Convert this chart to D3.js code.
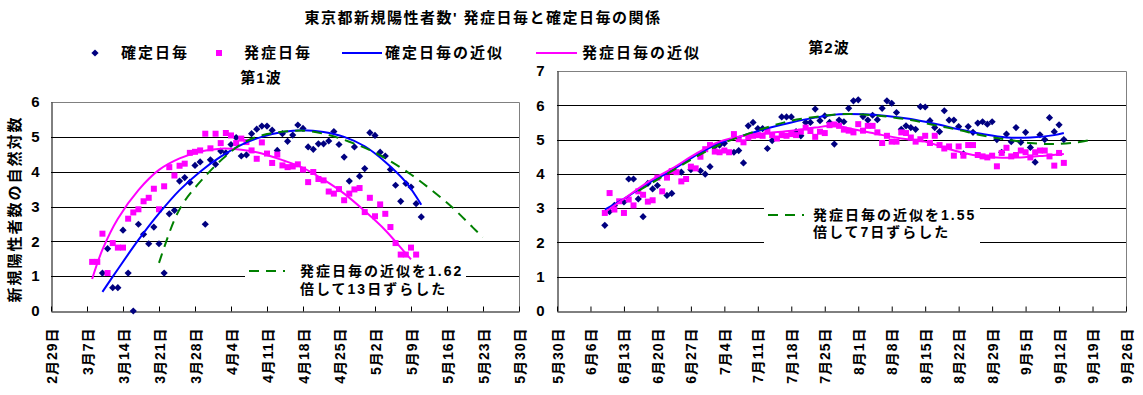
<!DOCTYPE html>
<html>
<head>
<meta charset="utf-8">
<script src="https://cdn.jsdelivr.net/npm/d3@7"></script>
<style>
    body { margin: 0; background: #fff; }
    svg { display: block; font-family: "Liberation Sans", "Noto Sans CJK JP", sans-serif; font-weight: bold; }
</style>
</head>
<body>
<svg id="chart" width="1143" height="395"></svg>
<script>
/*global d3 */

//x axis tick dates (2020)
var wave1Ticks = ["2/29", "3/7", "3/14", "3/21", "3/28", "4/4", "4/11", "4/18",
                  "4/25", "5/2", "5/9", "5/16", "5/23", "5/30"];
var wave2Ticks = ["5/30", "6/6", "6/13", "6/20", "6/27", "7/4", "7/11", "7/18",
                  "7/25", "8/1", "8/8", "8/15", "8/22", "8/29", "9/5", "9/12",
                  "9/19", "9/26"];

//daily log values, one per day from the start date (null = not readable)
var wave1OnsetStart = "3/8";
var wave1Onset = [1.41, 1.41, 2.22, 1.09, 1.95, 1.82, 1.82, 2.65, 2.83, 2.92,
                  3.15, 3.25, 3.51, 2.92, 3.58, 4.13, 3.89, 4.17, 4.23, 4.54,
                  4.57, 4.61, 5.09, 4.67, 5.09, 4.82, 5.11, 5.04, 4.82, 4.95,
                  4.85, 4.61, 4.37, 4.84, 4.52, 4.25, 4.49, 4.18, 4.13, 4.15,
                  4.21, 4.06, 3.70, 3.99, 3.79, 3.75, 3.43, 3.37, 3.50, 3.18,
                  3.37, 3.49, 3.53, 2.84, 3.25, 2.72, 3.06, 2.79, 2.41, 1.95,
                  1.62, 1.62, 1.82, 1.62];
var wave1ConfirmStart = "3/10";
var wave1Confirm = [1.09, 1.79, 0.67, 0.67, 2.32, 1.09, 0, 2.49, 2.20, 1.93,
                    2.41, 1.93, 1.09, 2.79, 2.89, 3.73, 3.83, 3.69, 4.18, 4.28,
                    2.49, 4.34, 4.21, 4.59, 4.54, 4.78, 4.98, 4.45, 4.48, 5.09,
                    5.22, 5.31, 5.31, 5.19, 4.61, 5.09, 4.87, 5.05, 5.34, 5.24,
                    4.71, 4.64, 4.80, 4.80, 4.88, 5.15, 4.78, 4.42, 3.73, 4.71,
                    3.87, 4.09, 5.12, 5.04, 4.56, 4.45, 4.06, 3.61, 3.15, 3.66,
                    3.56, 3.08, 2.70];
var wave2OnsetStart = "6/9";
var wave2Onset = [2.86, 3.44, 2.96, 3.20, 2.86, 3.25, 3.08, 3.49, 3.39, 3.19,
                  3.23, 3.89, 3.49, 3.89, 4.08, 4.05, 3.78, 3.85, 4.21, 4.16,
                  4.50, 4.72, 4.84, 4.65, 4.63, 4.68, 4.63, 5.16, 5.01, 4.92,
                  5.06, 5.11, 5.13, 5.11, 5.23, 5.13, 5.03, 5.13, 5.11, 5.16,
                  5.13, 5.23, 5.35, 5.25, 5.08, 5.23, 5.19, 5.42, 5.44, 5.40,
                  5.29, 5.26, 5.21, 5.45, 5.26, 5.40, 5.40, 5.21, 4.90, 5.11,
                  4.94, 4.94, 5.21, 5.19, 5.06, 4.94, 5.01, 5.11, 4.90, 5.11,
                  4.84, 4.74, 4.80, 4.53, 4.80, 4.53, 4.84, 4.84, 4.55, 4.51,
                  4.48, 4.53, 4.22, 4.61, 4.76, 4.51, 4.55, 4.68, 4.63, 4.48,
                  4.63, 4.68, 4.68, 4.51, 4.24, 4.61, 4.32];
var wave2ConfirmStart = "6/9";
var wave2Confirm = [2.50, 2.90, 3.08, null, 3.18, 3.85, 3.85, 3.27, 2.75, 3.72,
                    3.56, 3.66, null, 3.37, 3.43, null, 4.05, null, 4.12, null,
                    4.09, 3.99, 4.21, 4.80, 4.84, 4.89, null, 4.63, 4.68, 4.32,
                    5.40, 5.50, 5.32, 5.32, 4.74, 4.97, null, 5.66, 5.66, 5.66,
                    5.23, 5.11, 5.50, 5.50, 5.89, 5.55, 5.69, 5.50, 4.87, 5.57,
                    5.52, 5.91, 6.13, 6.16, 5.67, 5.57, 5.71, 5.58, 5.91, 6.13,
                    6.06, 5.79, 5.30, 5.40, 5.35, 5.30, 5.96, 5.95, 5.55, 5.35,
                    5.23, 5.84, 5.57, 5.57, 5.38, 4.58, 5.38, 5.21, 5.48, 5.52,
                    5.45, 5.52, 5.00, 4.63, 5.16, 4.94, 5.35, 4.92, 5.21, 4.77,
                    4.34, 5.14, 5.00, 5.64, 5.23, 5.43, 5.00];

//fitted curves as [date, value]
var wave1OnsetFit = [["3/8", 0.92], ["3/10", 1.76], ["3/13", 2.65], ["3/17", 3.47],
                     ["3/21", 4.05], ["3/25", 4.38], ["3/29", 4.58], ["4/2", 4.66],
                     ["4/6", 4.63], ["4/10", 4.52], ["4/14", 4.33], ["4/18", 4.11],
                     ["4/22", 3.77], ["4/26", 3.37], ["4/30", 2.87], ["5/4", 2.32],
                     ["5/8", 1.65], ["5/9", 1.48]];
var wave1ConfirmFit = [["3/10", 0.55], ["3/13", 1.20], ["3/17", 2.04], ["3/21", 2.80],
                       ["3/25", 3.47], ["3/29", 4.00], ["4/2", 4.43], ["4/6", 4.77],
                       ["4/10", 5.00], ["4/14", 5.14], ["4/18", 5.19], ["4/22", 5.14],
                       ["4/26", 5.00], ["4/30", 4.73], ["5/4", 4.28], ["5/8", 3.70],
                       ["5/11", 3.05]];
var wave1ShiftFit = [["3/21", 1.38], ["3/24", 2.62], ["3/26", 3.16], ["3/30", 3.87],
                     ["4/3", 4.45], ["4/7", 4.88], ["4/11", 5.08], ["4/15", 5.16],
                     ["4/19", 5.17], ["4/23", 5.05], ["4/27", 4.86], ["5/1", 4.62],
                     ["5/5", 4.30], ["5/9", 3.92], ["5/13", 3.47], ["5/17", 2.98],
                     ["5/21", 2.40], ["5/23", 2.12]];
var wave2OnsetFit = [["6/9", 2.88], ["6/13", 3.27], ["6/18", 3.76], ["6/23", 4.15],
                     ["6/28", 4.58], ["7/3", 4.94], ["7/8", 5.11], ["7/13", 5.19],
                     ["7/18", 5.26], ["7/23", 5.35], ["7/27", 5.40], ["7/31", 5.30],
                     ["8/5", 5.16], ["8/10", 5.03], ["8/15", 4.94], ["8/20", 4.72],
                     ["8/25", 4.55], ["8/30", 4.48], ["9/4", 4.48], ["9/9", 4.53],
                     ["9/13", 4.58]];
var wave2ConfirmFit = [["6/9", 2.96], ["6/13", 3.27], ["6/18", 3.72], ["6/23", 4.10],
                       ["6/28", 4.54], ["7/3", 4.90], ["7/8", 5.12], ["7/13", 5.33],
                       ["7/18", 5.50], ["7/23", 5.64], ["7/28", 5.74], ["8/2", 5.74],
                       ["8/7", 5.69], ["8/12", 5.60], ["8/17", 5.46], ["8/22", 5.30],
                       ["8/27", 5.16], ["9/1", 5.06], ["9/6", 5.06], ["9/11", 5.13],
                       ["9/13", 5.19]];
var wave2ShiftFit = [["6/16", 3.50], ["6/23", 4.08], ["6/28", 4.49], ["7/3", 4.85],
                     ["7/8", 5.12], ["7/13", 5.36], ["7/18", 5.55], ["7/23", 5.66],
                     ["7/28", 5.74], ["8/2", 5.73], ["8/7", 5.67], ["8/12", 5.57],
                     ["8/17", 5.42], ["8/22", 5.28], ["8/27", 5.12], ["9/1", 5.00],
                     ["9/6", 4.90], ["9/11", 4.87], ["9/16", 4.92], ["9/18", 4.97]];

(function () {
    "use strict";

    var svg = d3.select("#chart"),
        parse = d3.utcParse("%Y/%m/%d"),
        fmt = d3.utcFormat("%-m月%-d日"),
        col = {confirm: "#000080", onset: "#ff00ff", confirmFit: "#0000ff",
               onsetFit: "#ff00ff", shift: "#008000", grid: "#000", frame: "#808080"};

    function day (s) { return parse("2020/" + s); }

    function daily (start, vals) {
        var t0 = day(start);
        return vals.map(function (v, i) {
            return {date: d3.utcDay.offset(t0, i), value: v}; })
            .filter(function (d) { return d.value !== null; });
    }

    function pairs (list) {
        return list.map(function (p) { return {date: day(p[0]), value: p[1]}; });
    }

    function crisp (v) { return Math.round(v) + 0.5; }

    function drawPanel (p) {
        var x, y, g, line;
        x = d3.scaleUtc()
            .domain([day(p.ticks[0]), day(p.ticks[p.ticks.length - 1])])
            .range([p.left, p.right]);
        y = d3.scaleLinear().domain([0, p.ymax]).range([p.bottom, p.top]);
        line = d3.line().curve(d3.curveCatmullRom.alpha(0.5))
            .x(function (d) { return x(d.date); })
            .y(function (d) { return y(d.value); });
        g = svg.append("g");

        //horizontal gridlines
        g.append("g").selectAll("line")
            .data(d3.range(1, p.ymax))
            .join("line")
            .attr("x1", p.left).attr("x2", p.right)
            .attr("y1", function (d) { return crisp(y(d)); })
            .attr("y2", function (d) { return crisp(y(d)); })
            .attr("stroke", col.grid);
        //grey frame on top and right
        g.append("path")
            .attr("d", "M" + p.left + "," + crisp(y(p.ymax)) + "H" + crisp(p.right) +
                  "V" + crisp(p.bottom))
            .attr("fill", "none")
            .attr("stroke", col.frame);

        //note box hides the gridlines under the annotation
        g.append("rect")
            .attr("x", p.note.x0).attr("y", p.note.y0)
            .attr("width", p.note.x1 - p.note.x0)
            .attr("height", p.note.y1 - p.note.y0)
            .attr("fill", "#fff");
        g.append("line")
            .attr("x1", p.note.x0 + 4).attr("x2", p.note.x0 + 40)
            .attr("y1", p.note.ly).attr("y2", p.note.ly)
            .attr("stroke", col.shift).attr("stroke-width", 2)
            .attr("stroke-dasharray", "10,7");
        g.append("text")
            .attr("x", p.note.tx).attr("y", p.note.ly + 5)
            .attr("font-size", 14).attr("letter-spacing", 2)
            .text(p.note.lines[0]);
        g.append("text")
            .attr("x", p.note.tx).attr("y", p.note.ly + 5 + p.note.gap)
            .attr("font-size", 14).attr("letter-spacing", 2)
            .text(p.note.lines[1]);

        //x axis with dates turned upright
        g.append("g")
            .attr("transform", "translate(0," + crisp(p.bottom) + ")")
            .call(d3.axisBottom(x)
                  .tickValues(p.ticks.map(day))
                  .tickFormat(fmt)
                  .tickSizeInner(-5)
                  .tickSizeOuter(0))
            .call(function (a) {
                a.attr("font-family", null).attr("font-size", null);
                a.select(".domain").attr("stroke", "#000");
                a.selectAll(".tick line").attr("stroke", "#000");
                a.selectAll(".tick text")
                    .attr("transform", "rotate(-90)")
                    .attr("x", -16).attr("y", 0).attr("dy", "0.36em")
                    .attr("text-anchor", "end")
                    .attr("font-size", 14)
                    .attr("letter-spacing", 1)
                    .attr("fill", "#000");
            });

        //y axis
        g.append("g")
            .attr("transform", "translate(" + crisp(p.left) + ",0)")
            .call(d3.axisLeft(y).ticks(p.ymax).tickFormat(d3.format("d"))
                  .tickSize(0).tickPadding(p.pad))
            .call(function (a) {
                a.attr("font-family", null).attr("font-size", null);
                a.select(".domain").attr("stroke", "#000");
                a.selectAll(".tick text").attr("font-size", 15).attr("fill", "#000");
            });

        //scatter: diamonds then squares
        g.append("g").selectAll("path")
            .data(daily(p.confirmStart, p.confirm))
            .join("path")
            .attr("transform", function (d) {
                return "translate(" + x(d.date) + "," + y(d.value) + ")"; })
            .attr("d", "M0,-3.6L3.6,0L0,3.6L-3.6,0Z")
            .attr("fill", col.confirm);
        g.append("g").selectAll("rect")
            .data(daily(p.onsetStart, p.onset))
            .join("rect")
            .attr("x", function (d) { return x(d.date) - 3; })
            .attr("y", function (d) { return y(d.value) - 3; })
            .attr("width", 6).attr("height", 6)
            .attr("fill", col.onset);

        //fitted curves
        g.append("path").datum(pairs(p.confirmFit))
            .attr("d", line).attr("fill", "none")
            .attr("stroke", col.confirmFit).attr("stroke-width", 2);
        g.append("path").datum(pairs(p.onsetFit))
            .attr("d", line).attr("fill", "none")
            .attr("stroke", col.onsetFit).attr("stroke-width", 2);
        g.append("path").datum(pairs(p.shiftFit))
            .attr("d", line).attr("fill", "none")
            .attr("stroke", col.shift).attr("stroke-width", 2)
            .attr("stroke-dasharray", "10,7");

        g.append("text")
            .attr("x", p.labelX).attr("y", p.labelY)
            .attr("text-anchor", "middle")
            .attr("font-size", 15).attr("letter-spacing", 1)
            .text(p.label);
    }

    function drawLegend () {
        var lg = svg.append("g").attr("font-size", 15).attr("letter-spacing", 2),
            ly = 53;
        lg.append("path")
            .attr("transform", "translate(95," + ly + ")")
            .attr("d", "M0,-3.6L3.6,0L0,3.6L-3.6,0Z")
            .attr("fill", col.confirm);
        lg.append("text").attr("x", 121).attr("y", ly + 5).text("確定日毎");
        lg.append("rect").attr("x", 216).attr("y", ly - 3)
            .attr("width", 6).attr("height", 6).attr("fill", col.onset);
        lg.append("text").attr("x", 244).attr("y", ly + 5).text("発症日毎");
        lg.append("line").attr("x1", 342).attr("x2", 382)
            .attr("y1", ly).attr("y2", ly)
            .attr("stroke", col.confirmFit).attr("stroke-width", 2);
        lg.append("text").attr("x", 385).attr("y", ly + 5).text("確定日毎の近似");
        lg.append("line").attr("x1", 536).attr("x2", 577)
            .attr("y1", ly).attr("y2", ly)
            .attr("stroke", col.onsetFit).attr("stroke-width", 2);
        lg.append("text").attr("x", 582).attr("y", ly + 5).text("発症日毎の近似");
    }

    svg.append("rect").attr("width", 1143).attr("height", 395).attr("fill", "#fff");

    svg.append("text")
        .attr("x", 483).attr("y", 23)
        .attr("text-anchor", "middle")
        .attr("font-size", 15).attr("letter-spacing", 1.5)
        .text("東京都新規陽性者数' 発症日毎と確定日毎の関係");

    svg.append("text")
        .attr("transform", "translate(20,209) rotate(-90)")
        .attr("text-anchor", "middle")
        .attr("font-size", 15).attr("letter-spacing", 2)
        .text("新規陽性者数の自然対数");

    drawLegend();

    drawPanel({
        left: 51, right: 519, top: 102, bottom: 311, ymax: 6, pad: 12,
        ticks: wave1Ticks,
        confirmStart: wave1ConfirmStart, confirm: wave1Confirm,
        onsetStart: wave1OnsetStart, onset: wave1Onset,
        confirmFit: wave1ConfirmFit, onsetFit: wave1OnsetFit, shiftFit: wave1ShiftFit,
        label: "第1波", labelX: 261, labelY: 83,
        note: {x0: 245, x1: 466, y0: 259, y1: 302, tx: 300, ly: 271, gap: 18,
               lines: ["発症日毎の近似を1.62", "倍して13日ずらした"]}
    });

    drawPanel({
        left: 557, right: 1126, top: 71, bottom: 311, ymax: 7, pad: 13,
        ticks: wave2Ticks,
        confirmStart: wave2ConfirmStart, confirm: wave2Confirm,
        onsetStart: wave2OnsetStart, onset: wave2Onset,
        confirmFit: wave2ConfirmFit, onsetFit: wave2OnsetFit, shiftFit: wave2ShiftFit,
        label: "第2波", labelX: 829, labelY: 53,
        note: {x0: 764, x1: 980, y0: 200, y1: 248, tx: 813, ly: 215, gap: 17,
               lines: ["発症日毎の近似を1.55", "倍して7日ずらした"]}
    });
}());
</script>
</body>
</html>
